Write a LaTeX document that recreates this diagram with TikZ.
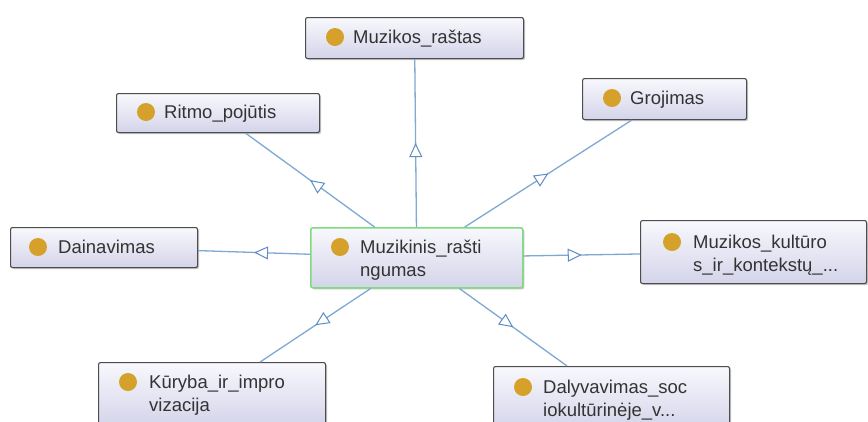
\documentclass[tikz,border=0pt]{standalone}
\usepackage{fontspec}
\setmainfont{Liberation Sans}
\usetikzlibrary{arrows.meta,decorations.markings,shadows,calc}
\definecolor{edgeblue}{HTML}{7FA8D2}
\definecolor{tipblue}{HTML}{5F8CC4}
\definecolor{boxtop}{HTML}{F8F8FD}
\definecolor{boxbot}{HTML}{D4D4EA}
\definecolor{boxline}{HTML}{4D4D4D}
\definecolor{selgreen}{HTML}{7EDC7E}
\definecolor{dotgold}{HTML}{D6A12A}
\definecolor{txtgray}{HTML}{333333}
\begin{document}
\begin{tikzpicture}[x=1pt,y=-1pt,
	cls/.style={rectangle, rounded corners=2pt, draw=boxline, line width=1.1pt, top color=boxtop, bottom color=boxbot, inner sep=0pt, anchor=north west, drop shadow={shadow xshift=1.5pt, shadow yshift=-1.5pt, fill=black!45, opacity=0.5}},
	lbl/.style={anchor=north west, inner sep=0pt, align=left, text=txtgray, font=\fontsize{18.5}{23}\selectfont},
	edge/.style={draw=edgeblue, line width=1.3pt, postaction={decorate}, decoration={markings, mark=at position 0.5 with {\arrow{Triangle[length=14pt,width=13pt,color=tipblue,fill=white,line width=1pt]}}}}]
	\useasboundingbox (0,0) rectangle (868,421);
	\fill[white] (0,0) rectangle (868,421);
	\clip (0,0) rectangle (868,421);
	% classes
	\node[cls, draw=selgreen, line width=1.5pt, minimum width=212pt, minimum height=60pt] (mr) at (310,227) {};
	\node[cls, minimum width=218pt, minimum height=41pt] (rastas) at (305,17) {};
	\node[cls, minimum width=203pt, minimum height=39pt] (ritmo) at (116,93) {};
	\node[cls, minimum width=164pt, minimum height=41pt] (groj) at (582,78) {};
	\node[cls, minimum width=187pt, minimum height=40pt] (dain) at (10,227) {};
	\node[cls, minimum width=226pt, minimum height=63pt] (kult) at (640,220) {};
	\node[cls, minimum width=227pt, minimum height=63pt] (kur) at (98,362) {};
	\node[cls, minimum width=236pt, minimum height=63pt] (daly) at (493,366) {};
	% dots
	\fill[dotgold] ($(mr.north west)+(30,20)$) circle (9pt);
	\fill[dotgold] ($(rastas.north west)+(30,20)$) circle (9pt);
	\fill[dotgold] ($(ritmo.north west)+(30,19)$) circle (9pt);
	\fill[dotgold] ($(groj.north west)+(30,20)$) circle (9pt);
	\fill[dotgold] ($(dain.north west)+(28,20)$) circle (9pt);
	\fill[dotgold] ($(kult.north west)+(32,22)$) circle (9pt);
	\fill[dotgold] ($(kur.north west)+(30,20)$) circle (9pt);
	\fill[dotgold] ($(daly.north west)+(30,21)$) circle (9pt);
	% labels
	\node[lbl] (mr-l) at ($(mr.north west)+(50,13)$) {Muzikinis\_rašti\\ngumas};
	\node[lbl] (rastas-l) at ($(rastas.north west)+(48,13)$) {Muzikos\_raštas};
	\node[lbl] (ritmo-l) at ($(ritmo.north west)+(48,12)$) {Ritmo\_pojūtis};
	\node[lbl] (groj-l) at ($(groj.north west)+(48,13)$) {Grojimas};
	\node[lbl] (dain-l) at ($(dain.north west)+(48,13)$) {Dainavimas};
	\node[lbl] (kult-l) at ($(kult.north west)+(53,15)$) {Muzikos\_kultūro\\s\_ir\_kontekstų\_...};
	\node[lbl] (kur-l) at ($(kur.north west)+(51,13)$) {Kūryba\_ir\_impro\\vizacija};
	\node[lbl] (daly-l) at ($(daly.north west)+(50,14)$) {Dalyvavimas\_soc\\iokultūrinėje\_v...};
	% links
	\draw[edge] (mr) -- (rastas);
	\draw[edge] (mr) -- (ritmo);
	\draw[edge] (mr) -- (groj);
	\draw[edge] (mr) -- (dain);
	\draw[edge] (mr) -- (kult);
	\draw[edge] (mr) -- (kur);
	\draw[edge] (mr) -- (daly);
\end{tikzpicture}
\end{document}
